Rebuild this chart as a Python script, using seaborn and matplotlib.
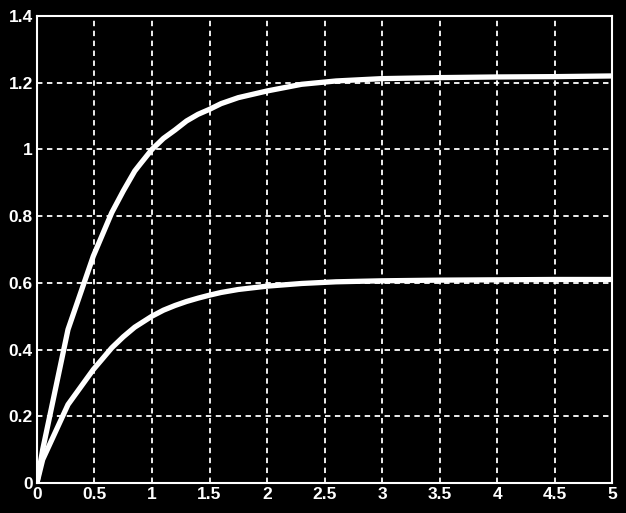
import matplotlib
matplotlib.use("Agg")
import matplotlib.pyplot as plt
import seaborn as sns
import pandas as pd

# step response samples
t = [0, 0.05, 0.27, 0.49, 0.65, 0.75, 0.85, 0.9, 1.0, 1.1, 1.2, 1.3, 1.4, 1.5, 1.6,
     1.75, 2.0, 2.3, 2.6, 3.0, 3.5, 4.0, 4.5, 5.0]
upper = [0, 0.10, 0.46, 0.68, 0.81, 0.875, 0.935, 0.957, 1.0, 1.033, 1.058, 1.085, 1.105, 1.12, 1.137,
         1.155, 1.175, 1.195, 1.205, 1.212, 1.215, 1.217, 1.218, 1.22]
lower = [0, 0.07, 0.235, 0.34, 0.405, 0.438, 0.467, 0.478, 0.50, 0.518, 0.532, 0.544, 0.554, 0.563, 0.571,
         0.58, 0.59, 0.598, 0.603, 0.606, 0.608, 0.609, 0.61, 0.61]

xticks = [0, 0.5, 1, 1.5, 2, 2.5, 3, 3.5, 4, 4.5, 5]
xticklabels = ["0", "0.5", "1", "1.5", "2", "2.5", "3", "3.5", "4", "4.5", "5"]
yticks = [0, 0.2, 0.4, 0.6, 0.8, 1, 1.2, 1.4]
yticklabels = ["0", "0.2", "0.4", "0.6", "0.8", "1", "1.2", "1.4"]

df = pd.DataFrame({
    "t": t + t,
    "y": upper + lower,
    "series": ["upper"] * len(t) + ["lower"] * len(t),
})

sns.set_style("dark")
plt.rcParams["font.family"] = ["Liberation Sans", "DejaVu Sans"]

fig = plt.figure(figsize=(6.26, 5.13), dpi=100, facecolor="black")
ax = fig.add_axes([0.059, 0.0585, 0.919, 0.9105])
ax.set_facecolor("black")

sns.lineplot(data=df, x="t", y="y", units="series", estimator=None,
             color="white", linewidth=3.8, ax=ax, legend=False, sort=False)

ax.set_xlim(0, 5)
ax.set_ylim(0, 1.4)
ax.set_xticks(xticks)
ax.set_xticklabels(xticklabels)
ax.set_yticks(yticks)
ax.set_yticklabels(yticklabels)
ax.set_xlabel("")
ax.set_ylabel("")

ax.grid(True, color="white", linestyle=(0, (3, 2.5)), linewidth=1.3)
ax.set_axisbelow(True)
for s in ax.spines.values():
    s.set_visible(True)
    s.set_color("white")
    s.set_linewidth(1.5)

ax.tick_params(length=0, colors="white", labelsize=12.5, pad=3)
for lab in ax.get_xticklabels() + ax.get_yticklabels():
    lab.set_fontweight("bold")

fig.savefig("out.png", dpi=100, facecolor="black")
